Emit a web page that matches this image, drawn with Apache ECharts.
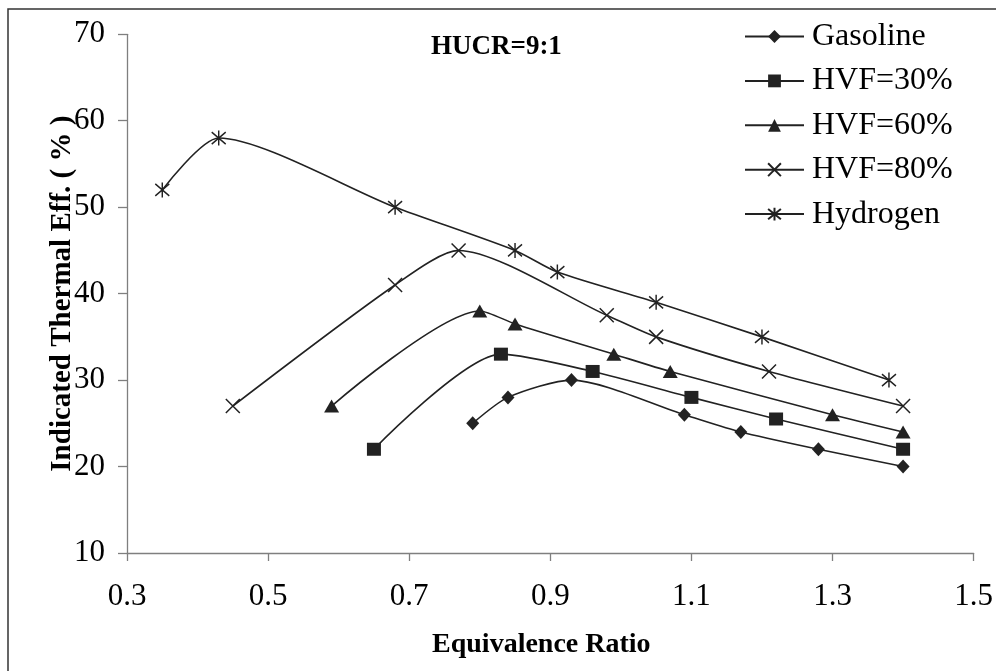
<!DOCTYPE html>
<html>
<head>
<meta charset="utf-8">
<script src="https://cdn.jsdelivr.net/npm/echarts@6/dist/echarts.min.js"></script>
<style>
  html, body { margin: 0; padding: 0; background: #fff; }
  #chart { width: 996px; height: 671px; }
</style>
</head>
<body>
<div id="chart"></div>
<script>
// ---- Data ----
const seriesNames = ['Gasoline', 'HVF=30%', 'HVF=60%', 'HVF=80%', 'Hydrogen'];
const gasolineX = [0.79, 0.84, 0.93, 1.09, 1.17, 1.28, 1.40];
const gasolineY = [25, 28, 30, 26, 24, 22, 20];
const hvf30X = [0.65, 0.83, 0.96, 1.10, 1.22, 1.40];
const hvf30Y = [22, 33, 31, 28, 25.5, 22];
const hvf60X = [0.59, 0.80, 0.85, 0.99, 1.07, 1.30, 1.40];
const hvf60Y = [27, 38, 36.5, 33, 31, 26, 24];
const hvf80X = [0.45, 0.68, 0.77, 0.98, 1.05, 1.21, 1.40];
const hvf80Y = [27, 41, 45, 37.5, 35, 31, 27];
const hydrogenX = [0.35, 0.43, 0.68, 0.85, 0.91, 1.05, 1.20, 1.38];
const hydrogenY = [52, 58, 50, 45, 42.5, 39, 35, 30];
const xTitle = 'Equivalence Ratio';
const yTitle = 'Indicated Thermal Eff. ( % )';
const chartNote = 'HUCR=9:1';

function pairs(xs, ys) { return xs.map((x, i) => [x, ys[i]]); }

const INK = '#222';
const serifFont = '"Liberation Serif", "Times New Roman", serif';

const markers = [
  { symbol: 'diamond', size: [13, 14], filled: true },
  { symbol: 'rect', size: [14, 13], filled: true },
  { symbol: 'triangle', size: [15, 13], filled: true },
  { symbol: 'path://M0,0L10,10M10,0L0,10', size: [14, 14], filled: false },
  { symbol: 'path://M0,1L10,9M10,1L0,9M5,0L5,10', size: [14, 15], filled: false }
];
const dataSets = [
  pairs(gasolineX, gasolineY),
  pairs(hvf30X, hvf30Y),
  pairs(hvf60X, hvf60Y),
  pairs(hvf80X, hvf80Y),
  pairs(hydrogenX, hydrogenY)
];

const series = seriesNames.map((name, i) => ({
  name: name,
  type: 'line',
  data: dataSets[i],
  smooth: 0.25,
  symbol: markers[i].symbol,
  symbolSize: markers[i].size,
  showSymbol: true,
  color: INK,
  lineStyle: { color: INK, width: 1.6 },
  itemStyle: markers[i].filled
    ? { color: INK, borderWidth: 0 }
    : { color: 'transparent', borderColor: INK, borderWidth: 1.5 },
  emphasis: { disabled: true },
  z: 3
}));

const chart = echarts.init(document.getElementById('chart'), null, { renderer: 'canvas' });
chart.setOption({
  animation: false,
  backgroundColor: '#fff',
  grid: { left: 127, right: 20, top: 34.3, bottom: 118, containLabel: false },
  xAxis: {
    type: 'value', min: 0.3, max: 1.5, interval: 0.2,
    name: xTitle, nameLocation: 'middle', nameGap: 92, nameMoveOverlap: false,
    nameTextStyle: { fontFamily: serifFont, fontWeight: 'bold', fontSize: 28, color: '#000', verticalAlign: 'middle', padding: [0, 18, 0, 0] },
    axisLine: { show: true, onZero: false, lineStyle: { color: '#7f7f7f', width: 1.3 } },
    axisTick: { show: true, inside: false, length: 8, lineStyle: { color: '#7f7f7f', width: 1.3 } },
    axisLabel: { margin: 28, fontFamily: serifFont, fontSize: 31, color: '#000', formatter: v => v.toFixed(1) },
    splitLine: { show: false }
  },
  yAxis: {
    type: 'value', min: 10, max: 70, interval: 10,
    name: yTitle, nameLocation: 'middle', nameGap: 64, nameMoveOverlap: false,
    nameTextStyle: { fontFamily: serifFont, fontWeight: 'bold', fontSize: 29, color: '#000', verticalAlign: 'middle' },
    axisLine: { show: true, onZero: false, lineStyle: { color: '#7f7f7f', width: 1.3 } },
    axisTick: { show: true, inside: false, length: 9, lineStyle: { color: '#7f7f7f', width: 1.3 } },
    axisLabel: { margin: 22, fontFamily: serifFont, fontSize: 31, color: '#000' },
    splitLine: { show: false }
  },
  legend: {
    orient: 'vertical', left: 744, top: 20.5, padding: 0,
    itemWidth: 59, itemHeight: 16, itemGap: 12.4,
    selectedMode: false,
    data: seriesNames,
    textStyle: { fontFamily: serifFont, fontSize: 32, color: '#000', lineHeight: 32, padding: [0, 0, 0, 3] }
  },
  graphic: [
    { type: 'rect', shape: { x: 8, y: 9, width: 1100, height: 1000 }, style: { fill: 'none', stroke: '#333', lineWidth: 1.5 }, silent: true, z: 0 },
    { type: 'text', x: 431, y: 47, style: { text: chartNote, fontFamily: serifFont, fontWeight: 'bold', fontSize: 27, fill: '#000', verticalAlign: 'middle', align: 'left' }, silent: true, z: 5 }
  ],
  series: series
});
</script>
</body>
</html>
